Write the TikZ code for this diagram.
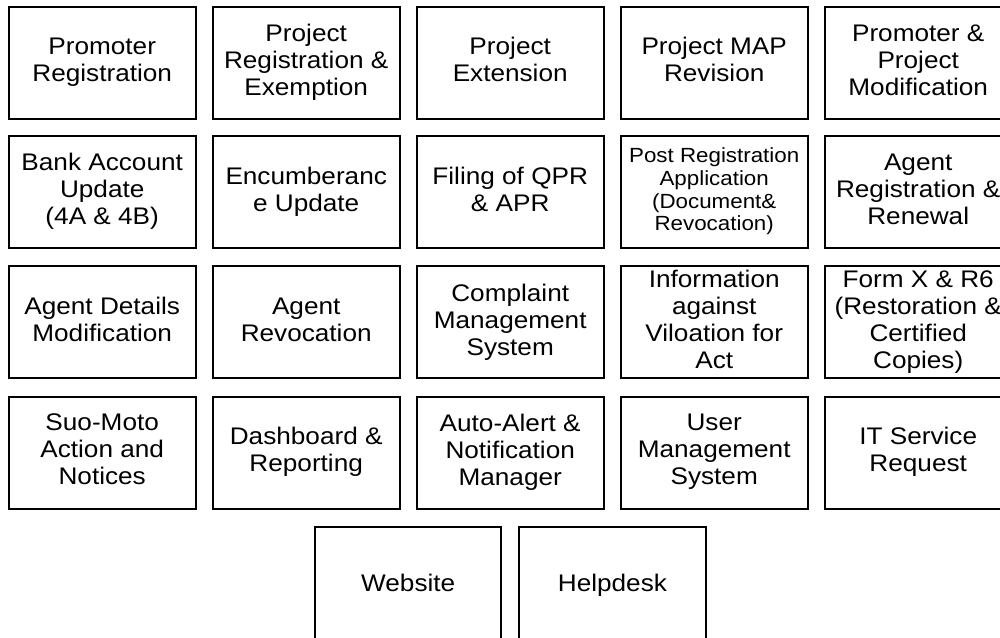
\documentclass[tikz,border=0pt]{standalone}
\usepackage{fontspec}
\setmainfont{Liberation Sans}[FakeStretch=1.09]
\begin{document}
\begin{tikzpicture}[x=1pt,y=-1pt,
  modbox/.style={draw=black, line width=2pt, minimum width=187pt, minimum height=112pt,
    inner sep=0pt, align=center, font=\fontsize{24}{27}\selectfont,
    execute at begin node={\rule{0pt}{23.2pt}},
    execute at end node={\rule[-6pt]{0pt}{6pt}}},
  smalltext/.style={font=\fontsize{20.5}{22.6}\selectfont,
    execute at begin node={\rule{0pt}{19.8pt}},
    execute at end node={\rule[-5.1pt]{0pt}{5.1pt}}}]
\useasboundingbox (0,0) rectangle (1000,637);
\clip (0,0) rectangle (1000,637);
% row 1
\node[modbox] (n11) at (102.2,62.7) {Promoter\\Registration};
\node[modbox] (n12) at (306.2,62.7) {Project\\Registration \&\\Exemption};
\node[modbox] (n13) at (510.2,62.7) {Project\\Extension};
\node[modbox] (n14) at (714.2,62.7) {Project MAP\\Revision};
\node[modbox] (n15) at (918.2,62.7) {Promoter \&\\Project\\Modification};
% row 2
\node[modbox] (n21) at (102.2,192.3) {Bank Account\\Update\\(4A \& 4B)};
\node[modbox] (n22) at (306.2,192.3) {Encumberanc\\e Update};
\node[modbox] (n23) at (510.2,192.3) {Filing of QPR\\\& APR};
\node[modbox,smalltext] (n24) at (714.2,192.3) {Post Registration\\Application\\(Document\&\\Revocation)};
\node[modbox] (n25) at (918.2,192.3) {Agent\\Registration \&\\Renewal};
% row 3
\node[modbox] (n31) at (102.2,322.3) {Agent Details\\Modification};
\node[modbox] (n32) at (306.2,322.3) {Agent\\Revocation};
\node[modbox] (n33) at (510.2,322.3) {Complaint\\Management\\System};
\node[modbox] (n34) at (714.2,322.3) {Information\\against\\Viloation for\\Act};
\node[modbox] (n35) at (918.2,322.3) {Form X \& R6\\(Restoration \&\\Certified\\Copies)};
% row 4
\node[modbox] (n41) at (102.2,452.5) {Suo-Moto\\Action and\\Notices};
\node[modbox] (n42) at (306.2,452.5) {Dashboard \&\\Reporting};
\node[modbox] (n43) at (510.2,452.5) {Auto-Alert \&\\Notification\\Manager};
\node[modbox] (n44) at (714.2,452.5) {User\\Management\\System};
\node[modbox] (n45) at (918.2,452.5) {IT Service\\Request};
% row 5
\node[modbox, minimum width=186.5pt] (web) at (408.2,582.7) {Website};
\node[modbox, minimum width=186.5pt] (help) at (612.4,582.7) {Helpdesk};
\end{tikzpicture}
\end{document}
